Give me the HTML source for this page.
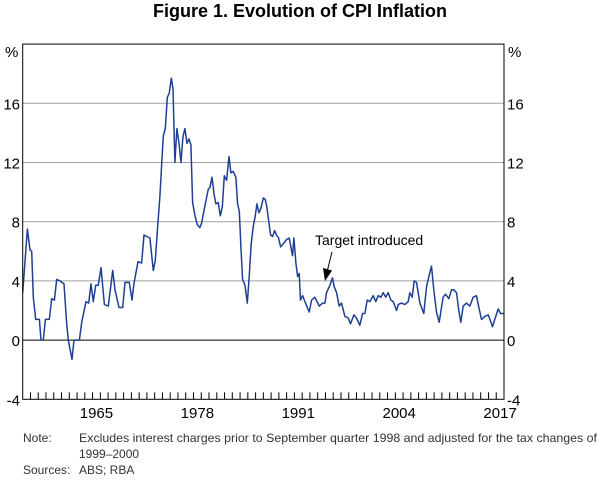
<!DOCTYPE html>
<html><head><meta charset="utf-8"><style>
body{margin:0;background:#fff;font-family:"Liberation Sans",sans-serif;}
svg{display:block}
</style></head><body>
<svg width="600" height="480" xmlns="http://www.w3.org/2000/svg">
<text x="300" y="17" text-anchor="middle" font-size="18" font-weight="bold">Figure 1. Evolution of CPI Inflation</text>
<g id="grid"></g>
<g id="ticks"></g>
<g id="ylabels"></g>
<g id="xlabels"></g>
<path id="line" fill="none" stroke="#1f3f94" stroke-width="1.5" stroke-linejoin="round"/>
<rect x="22.7" y="44.1" width="481.3" height="355.2" fill="none" stroke="#000" stroke-width="1"/>
<text x="315" y="245" font-size="14">Target introduced</text>
<line x1="332" y1="252" x2="327.5" y2="270" stroke="#000" stroke-width="1"/>
<polygon points="323,268 332,270.5 325,281" fill="#000"/>
<text x="5" y="57" font-size="15">%</text>
<text x="508" y="57" font-size="15">%</text>
<text x="23" y="442" font-size="12" fill="#333">Note:</text>
<text x="79" y="442" font-size="12" fill="#333" textLength="518" lengthAdjust="spacingAndGlyphs">Excludes interest charges prior to September quarter 1998 and adjusted for the tax changes of</text>
<text x="79" y="458" font-size="12" fill="#333">1999–2000</text>
<text x="23" y="474" font-size="12" fill="#333">Sources:</text>
<text x="79" y="474" font-size="12" fill="#333">ABS; RBA</text>
</svg>
<script>
const yTicks=[-4,0,4,8,12,16];
const xLabelYears=[1965,1978,1991,2004,2017];
const years=[1955.5,1956.1,1956.44,1956.66,1956.87,1957.17,1957.65,1957.86,1958.16,1958.42,1958.93,1959.23,1959.58,1959.88,1960.31,1960.82,1961.17,1961.38,1961.85,1962.11,1962.8,1963.1,1963.65,1964.0,1964.3,1964.6,1964.9,1965.24,1965.59,1966.02,1966.53,1967.09,1967.39,1967.9,1968.38,1968.68,1969.23,1969.58,1969.83,1970.35,1970.82,1971.12,1971.89,1972.32,1972.58,1972.92,1973.18,1973.4,1973.61,1973.87,1974.13,1974.38,1974.64,1974.86,1975.11,1975.37,1975.63,1975.89,1976.14,1976.4,1976.66,1976.92,1977.17,1977.39,1977.69,1977.99,1978.33,1978.55,1978.98,1979.41,1979.62,1979.88,1980.14,1980.39,1980.69,1980.95,1981.21,1981.47,1981.77,1982.07,1982.32,1982.62,1982.97,1983.18,1983.4,1983.61,1983.83,1984.13,1984.43,1984.68,1984.94,1985.2,1985.46,1985.67,1985.93,1986.19,1986.49,1986.74,1986.92,1987.17,1987.43,1987.69,1987.95,1988.2,1988.46,1988.72,1989.06,1989.49,1989.83,1990.26,1990.44,1990.69,1990.91,1991.12,1991.29,1991.55,1991.85,1992.41,1992.71,1993.14,1993.7,1994.13,1994.43,1994.64,1995.07,1995.41,1995.63,1995.93,1996.27,1996.57,1997.0,1997.43,1997.73,1998.16,1998.5,1998.93,1999.28,1999.58,1999.88,2000.22,2000.65,2000.99,2001.29,2001.64,2001.94,2002.28,2002.58,2002.93,2003.23,2003.66,2003.87,2004.3,2004.73,2005.16,2005.37,2005.67,2005.93,2006.23,2006.66,2007.17,2007.52,2007.82,2008.16,2008.46,2008.8,2009.15,2009.66,2009.96,2010.39,2010.74,2011.04,2011.38,2011.68,2011.94,2012.24,2012.67,2013.1,2013.53,2013.96,2014.3,2014.6,2015.03,2015.46,2015.76,2016.02,2016.32,2016.75,2017.05,2017.48];
const values=[3.2,7.5,6.1,6.0,2.9,1.4,1.4,0,0,1.4,1.4,2.8,2.7,4.1,4.0,3.8,1.1,0,-1.3,0,0,1.2,2.6,2.5,3.8,2.6,3.7,3.7,4.9,2.4,2.3,4.7,3.4,2.2,2.2,3.9,3.9,2.7,3.8,5.3,5.2,7.1,6.9,4.7,5.4,7.9,9.7,11.9,13.8,14.3,16.4,16.7,17.7,17.0,12.0,14.3,13.3,12.0,13.7,14.3,13.3,13.6,13.2,9.3,8.4,7.8,7.6,7.9,9.1,10.2,10.3,11.0,9.9,9.2,9.3,8.4,9.0,11.1,10.8,12.4,11.3,11.4,11.0,9.2,8.7,6.3,4.1,3.7,2.5,4.3,6.5,7.7,8.4,9.2,8.6,8.9,9.6,9.5,9.1,8.1,7.1,7.0,7.4,7.1,6.9,6.3,6.5,6.8,6.9,5.7,6.9,5.2,4.3,4.5,2.7,3.0,2.6,1.9,2.7,2.9,2.3,2.5,2.5,3.2,3.7,4.2,3.6,3.2,2.3,2.5,1.6,1.5,1.1,1.7,1.5,1.0,1.8,1.8,2.7,2.6,3.0,2.6,3.0,2.9,3.2,2.9,3.2,2.7,2.6,2.0,2.4,2.5,2.4,2.6,3.2,2.9,4.0,3.9,2.5,1.8,3.6,4.3,5.0,3.4,1.9,1.2,2.9,3.1,2.8,3.4,3.4,3.2,2.0,1.2,2.3,2.5,2.3,2.9,3.0,2.1,1.4,1.6,1.7,1.3,0.9,1.4,2.1,1.8,1.8];
const L=22.7,R=504,T=44.1,B=399.3,X0=1955.5,X1=2017.5,Y0=-4,Y1=20;
const sx=v=>L+(v-X0)/(X1-X0)*(R-L);
const sy=v=>B-(v-Y0)/(Y1-Y0)*(B-T);
const NS="http://www.w3.org/2000/svg";
function mk(tag,attrs,parent){const e=document.createElementNS(NS,tag);for(const k in attrs)e.setAttribute(k,attrs[k]);parent.appendChild(e);return e;}
const grid=document.getElementById('grid'),ticks=document.getElementById('ticks'),yl=document.getElementById('ylabels'),xl=document.getElementById('xlabels');
yTicks.forEach(v=>{
  if(v>-4){const g=mk('line',{x1:L,x2:R,y1:sy(v),y2:sy(v),stroke:v===0?'#000':'#a0a0a0','stroke-width':1},grid);
  
  }
  const a=mk('text',{x:20,y:sy(v)+6,'text-anchor':'end','font-size':15},yl);a.textContent=v;
  
  
  const b=mk('text',{x:507,y:sy(v)+6,'font-size':15},yl);b.textContent=v;
  
  
});
for(let y=Math.ceil(X0);y<=X1;y++){
  const x=sx(y+0.5);if(x>=R-0.5)continue;
  const t=mk('line',{x1:x,x2:x,y1:B-7,y2:B,stroke:'#000','stroke-width':1},ticks);
  
  
}
xLabelYears.forEach(y=>{const t=mk('text',{x:sx(y),y:418,'text-anchor':'middle','font-size':15},xl);t.textContent=y;
  
  });
document.getElementById('line').setAttribute('d',years.map((y,i)=>(i?'L':'M')+sx(y).toFixed(1)+' '+sy(values[i]).toFixed(1)).join(' '));
</script>
</body></html>
